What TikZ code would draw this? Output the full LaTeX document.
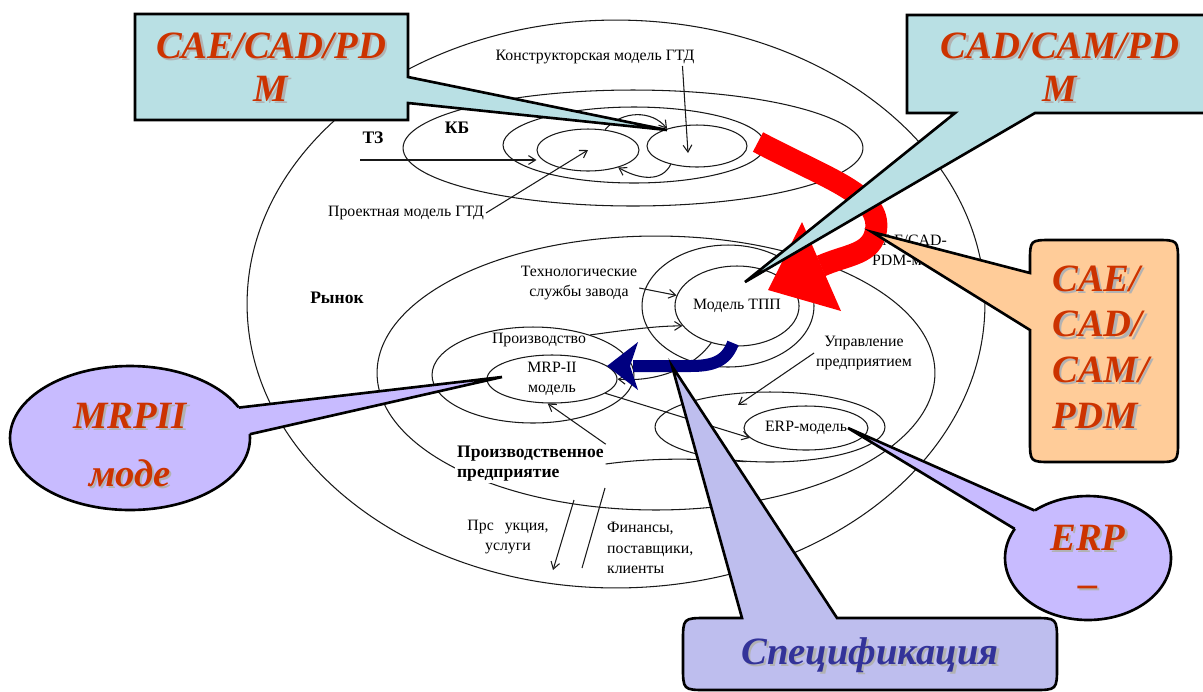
\documentclass[tikz,border=0pt]{standalone}
\usepackage{fontspec}
\setmainfont{Liberation Serif}
\usepackage{xcolor}
\usepackage{tikz}
\usetikzlibrary{shapes.geometric,arrows.meta,positioning}

\definecolor{calltext}{RGB}{204,51,0}
\definecolor{boxcyan}{RGB}{185,224,228}
\definecolor{boxpeach}{RGB}{255,204,153}
\definecolor{boxlilac}{RGB}{200,187,255}
\definecolor{boxblue}{RGB}{190,190,238}
\definecolor{specblue}{RGB}{51,51,153}
\definecolor{arrnavy}{RGB}{0,0,128}

\newcommand{\shadowed}[1]{\makebox[0pt][l]{\hspace{1.3pt}\raisebox{-1.3pt}{\textcolor{black!30}{#1}}}#1}

\begin{document}
\begin{tikzpicture}[
        x=0.02cm, y=-0.02cm,
        oval/.style={ellipse, draw=black!90, line width=0.6pt, inner sep=0pt, font=\fontsize{9}{11.5}\selectfont, align=center},
        lbl/.style={inner sep=1pt, align=center, font=\fontsize{9}{11.5}\selectfont},
        blbl/.style={lbl, font=\fontsize{10}{11.5}\selectfont\bfseries},
        link/.style={draw=black!90, line width=0.6pt},
        linkarrow/.style={link, -{Straight Barb[length=4pt, width=5pt]}},
        callout/.style={draw=black, line width=1.5pt},
        ctext/.style={font=\fontsize{22}{24.5}\selectfont\bfseries\itshape, text=calltext, align=center, inner sep=0pt},
        redband/.style={draw=red, line width=0.44cm},
        blueband/.style={draw=arrnavy, line width=0.24cm}
    ]
        \useasboundingbox (0,0) rectangle (1203,691);

        % Ellipses
        \node[oval, minimum width=14.76cm, minimum height=11.36cm] (market) at (616,304) {};
        \node[oval, minimum width=9.2cm, minimum height=2.32cm] (kbzone) at (633,148) {};
        \node[oval, minimum width=5.24cm, minimum height=1.52cm] (kbinner) at (634,145) {};
        \node[oval, minimum width=2.04cm, minimum height=0.84cm] (projmodel) at (588,150) {};
        \node[oval, minimum width=2.0cm, minimum height=0.84cm] (constrmodel) at (697,146) {};
        \node[oval, minimum width=11.16cm, minimum height=5.48cm] (enterprise) at (656,373) {};
        \node[oval, minimum width=3.44cm, minimum height=2.44cm] (techserv) at (728,306) {};
        \node[oval, minimum width=2.4cm, minimum height=1.6cm] (tppmodel) at (737,306) {Модель ТПП};
        \node[oval, minimum width=4.04cm, minimum height=1.92cm] (production) at (533,375) {};
        \node[oval, minimum width=2.6cm, minimum height=0.96cm] (mrpmodel) at (552,379) {MRP-II\\модель};
        \node[oval, minimum width=4.6cm, minimum height=1.4cm] (erpzone) at (770,427) {};
        \node[oval, minimum width=2.48cm, minimum height=0.88cm] (erpmodel) at (806,428) {ERP-модель};

        % Labels
        \node[lbl] (constrlbl) at (595,57) {Конструкторская модель ГТД};
        \node[lbl] (projlbl) at (406,213) {Проектная модель ГТД};
        \node[blbl] (tzlbl) at (373,138) {ТЗ};
        \node[blbl] (kblbl) at (457,128) {КБ};
        \node[blbl] (marketlbl) at (337,298) {Рынок};
        \node[lbl] (techlbl) at (579,283) {Технологические\\службы завода};
        \node[lbl] (prodnlbl) at (539,340) {Производство};
        \node[lbl] (upravlbl) at (864,353) {Управление\\предприятием};
        \node[lbl, align=left, anchor=west] (pdmlbl) at (870,252) {CAE/CAD-\\PDM-модель};
        \node[blbl, align=left, anchor=west, fill=white] (entlbl) at (455,464) {Производственное\\предприятие};
        \node[lbl] (prodlbl) at (508,537) {Прс\hspace{0.7em}укция,\\услуги};
        \node[lbl, align=left, anchor=west] (finlbl) at (605,548) {Финансы,\\поставщики,\\клиенты};

        % Thin arrows
        \coordinate (tzstart) at (360,160);
        \coordinate (erpin) at (738,405);
        \coordinate (prodfrom) at (574,500);
        \coordinate (prodto) at (553,570);
        \coordinate (finfrom) at (605,488);
        \coordinate (finto) at (582,568);
        \draw[linkarrow] (tzstart) -- (tzstart -| projmodel.west);
        \draw[linkarrow] ([xshift=-0.28cm]constrlbl.south east) -- ([xshift=-0.18cm,yshift=-0.14cm]constrmodel.center);
        \draw[linkarrow] (projlbl.east) -- (projmodel.center);
        \draw[linkarrow] (projmodel.50) .. controls (622,110) and (652,110) .. (constrmodel.150);
        \draw[linkarrow] (constrmodel.215) .. controls (662,182) and (640,180) .. (projmodel.-30);
        \draw[linkarrow] ([yshift=-0.1cm]techlbl.east) -- (tppmodel.170);
        \draw[linkarrow] (production.35) .. controls (640,328) and (660,326) .. (tppmodel.200);
        \draw[linkarrow] (tppmodel.235) .. controls (690,372) and (650,382) .. (mrpmodel.east);
        \draw[linkarrow] (upravlbl.west) -- (erpin);
        \draw[linkarrow] (mrpmodel.345) -- (erpmodel.190);
        \draw[linkarrow] (entlbl.north east) -- (mrpmodel.260);
        \draw[link] (entlbl.east) .. controls (650,458) and (690,458) .. (erpzone.235);
        \draw[linkarrow] (prodfrom) -- (prodto);
        \draw[link] (finfrom) -- (finto);

        % Red and blue arrows
        \coordinate (redstart) at (758,142);
        \coordinate (redbase) at (821,266);
        \draw[redband] (redstart) .. controls (830,180) and (881,195) .. (876,230) .. controls (872,255) and (848,254) .. (redbase);
        \fill[red] (768,290) -- (802,222) -- (841,311) -- cycle;
        \coordinate (bluestart) at (733,343);
        \coordinate (bluebase) at (633,366);
        \draw[blueband] (bluestart) .. controls (726,362) and (712,366) .. (690,366) -- (bluebase);
        \fill[arrnavy] (607,366) -- (638,342) -- (630,366) -- (638,390) -- cycle;

        % Callouts
        \coordinate (kbtip) at (667,130);
        \coordinate (tpptip) at (745,282);
        \coordinate (cadtip) at (872,232);
        \coordinate (mrptip) at (502,377);
        \coordinate (erptip) at (848,428);
        \coordinate (spectip) at (672,366);

        \draw[callout, fill=boxcyan] (135,14) -- (408,14) -- (408,77) -- (kbtip) -- (408,103) -- (408,120) -- (135,120) -- cycle;
        \node[ctext] (caebox) at (271,68) {\shadowed{CAE/CAD/PD}\\\shadowed{M}};

        \draw[callout, fill=boxcyan] (907,15) -- (1206,15) -- (1206,113) -- (1035,113) -- (tpptip) -- (955,113) -- (907,113) -- cycle;
        \node[ctext] (cambox) at (1060,68) {\shadowed{CAD/CAM/PD}\\\shadowed{M}};

        \draw[callout, fill=boxpeach] (1030,273) -- (1030,262) .. controls (1030,240) .. (1052,240) -- (1156,240) .. controls (1178,240) .. (1178,262) -- (1178,440) .. controls (1178,462) .. (1156,462) -- (1052,462) .. controls (1030,462) .. (1030,440) -- (1030,330) -- (cadtip) -- cycle;
        \node[ctext, align=left, anchor=west, font=\fontsize{22}{26}\selectfont\bfseries\itshape] (cadbox) at (1052,348) {\shadowed{CAE/}\\\shadowed{CAD/}\\\shadowed{CAM/}\\\shadowed{PDM}};

        \fill[boxlilac] (130,438) ellipse [x radius=2.4cm, y radius=1.44cm];
        \draw[callout] (130,438) ellipse [x radius=2.4cm, y radius=1.44cm];
        \fill[boxlilac] (mrptip) -- (238.8,407.6) -- (130,438) -- (249.8,434.2) -- cycle;
        \draw[callout] (238.8,407.6) -- (mrptip) -- (249.8,434.2);
        \node[ctext, font=\fontsize{22}{33}\selectfont\bfseries\itshape] (mrpbox) at (130,446) {\shadowed{MRPII}\\\shadowed{моде}};

        \fill[boxlilac] (1088,558) ellipse [x radius=1.66cm, y radius=1.24cm];
        \draw[callout] (1088,558) ellipse [x radius=1.66cm, y radius=1.24cm];
        \fill[boxlilac] (erptip) -- (1034.6,510.5) -- (1088,558) -- (1014.7,528.9) -- cycle;
        \draw[callout] (1034.6,510.5) -- (erptip) -- (1014.7,528.9);
        \node[ctext, font=\fontsize{22}{26}\selectfont\bfseries\itshape] (erpbox) at (1088,562) {\shadowed{ERP}\\\shadowed{–}};

        \draw[callout, fill=boxblue] (742,618) -- (spectip) -- (837,618) -- (1033,618) .. controls (1057,618) .. (1057,642) -- (1057,666) .. controls (1057,690) .. (1033,690) -- (707,690) .. controls (683,690) .. (683,666) -- (683,642) .. controls (683,618) .. (707,618) -- cycle;
        \node[ctext, text=specblue] (specbox) at (870,656) {\shadowed{Спецификация}};
    \end{tikzpicture}
\end{document}
